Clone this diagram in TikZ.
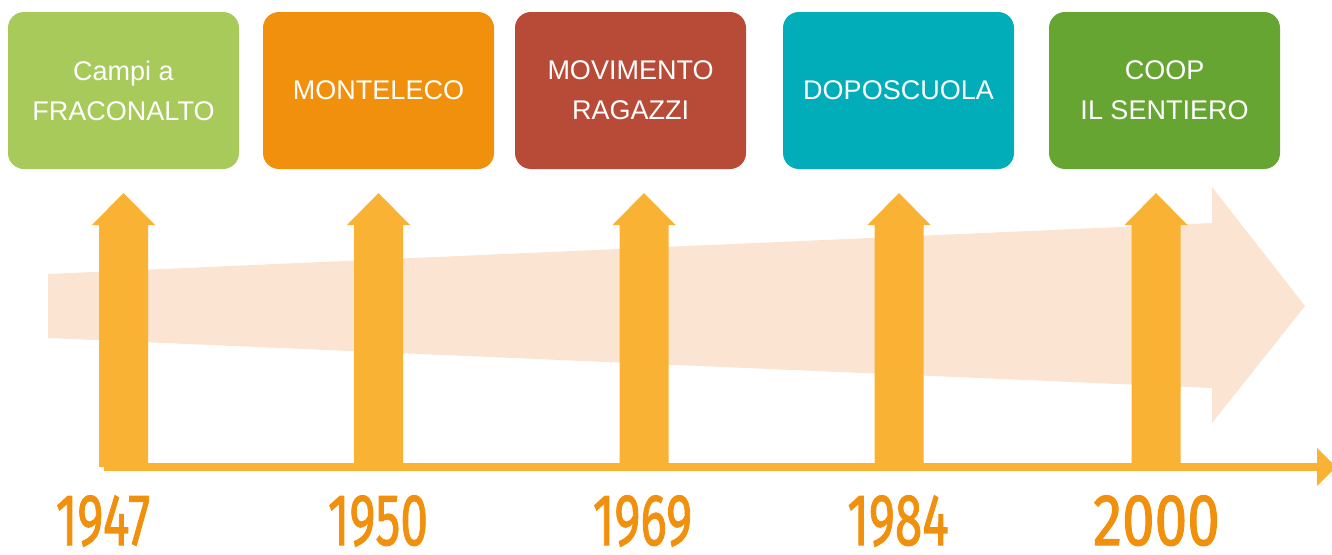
\documentclass[tikz,border=0pt]{standalone}
\usepackage{fontspec}
\setmainfont{Liberation Sans}
\newfontfamily\yearfont[FakeBold=1.6]{Fira Sans}
\definecolor{cGreenL}{HTML}{A8CA5A}
\definecolor{cOrange}{HTML}{F0900C}
\definecolor{cRed}{HTML}{B84A38}
\definecolor{cTeal}{HTML}{00ADB9}
\definecolor{cGreen}{HTML}{67A533}
\definecolor{cAxis}{HTML}{F9B233}
\definecolor{cYear}{HTML}{F0900C}
\definecolor{cBand}{HTML}{FBE4D2}
\tikzset{
  box/.style={rounded corners=16pt, minimum width=231pt, minimum height=157pt,
    inner sep=0pt, text=white, align=center, font=\fontsize{27}{40}\selectfont},
  year/.style={text=cYear, anchor=base, inner sep=0pt, text depth=0pt,
    font=\yearfont\fontsize{73}{73}\selectfont},
}
\begin{document}
\begin{tikzpicture}[x=1pt,y=-1pt]
\useasboundingbox (0,0) rectangle (1332,554);
\clip (0,0) rectangle (1332,554);
% boxes
\node[box, fill=cGreenL] (b1) at (123.5,90.5) {Campi a\\FRACONALTO};
\node[box, fill=cOrange] (b2) at (378.5,90.5) {MONTELECO};
\node[box, fill=cRed]    (b3) at (630.5,90.5) {MOVIMENTO\\RAGAZZI};
\node[box, fill=cTeal]   (b4) at (898.5,90.5) {DOPOSCUOLA};
\node[box, fill=cGreen]  (b5) at (1164.5,90.5) {COOP\\IL SENTIERO};
% big background arrow
\fill[cBand] (48,274) -- (1212,223) -- (1212,187) -- (1305,306) -- (1212,423)
  -- (1212,388) -- (48,338) -- cycle;
% vertical arrows
\foreach \cx/\n in {123.5/a1, 378.5/a2, 644/a3, 899/a4, 1156/a5}{
  \coordinate (\n) at (\cx,467);
  \fill[cAxis] (\cx-24.5,467) -- (\cx-24.5,225) -- (\cx-31.5,225) -- (\cx,193)
    -- (\cx+31.5,225) -- (\cx+24.5,225) -- (\cx+24.5,467) -- cycle;
}
% axis
\coordinate (axS) at (104,467);
\coordinate (axE) at (1317,467);
\fill[cAxis] (104,463) rectangle (1317,471);
\fill[cAxis] (1317,448) -- (1336,467) -- (1317,486) -- cycle;
% years
\node[year] (y1) at (103,545) {\scalebox{0.68}[1]{1947}};
\node[year] (y2) at (378,545) {\scalebox{0.68}[1]{1950}};
\node[year] (y3) at (642.5,545) {\scalebox{0.68}[1]{1969}};
\node[year] (y4) at (898,545) {\scalebox{0.68}[1]{1984}};
\node[year] (y5) at (1156.5,545) {\scalebox{0.8}[1]{2000}};
\end{tikzpicture}
\end{document}
